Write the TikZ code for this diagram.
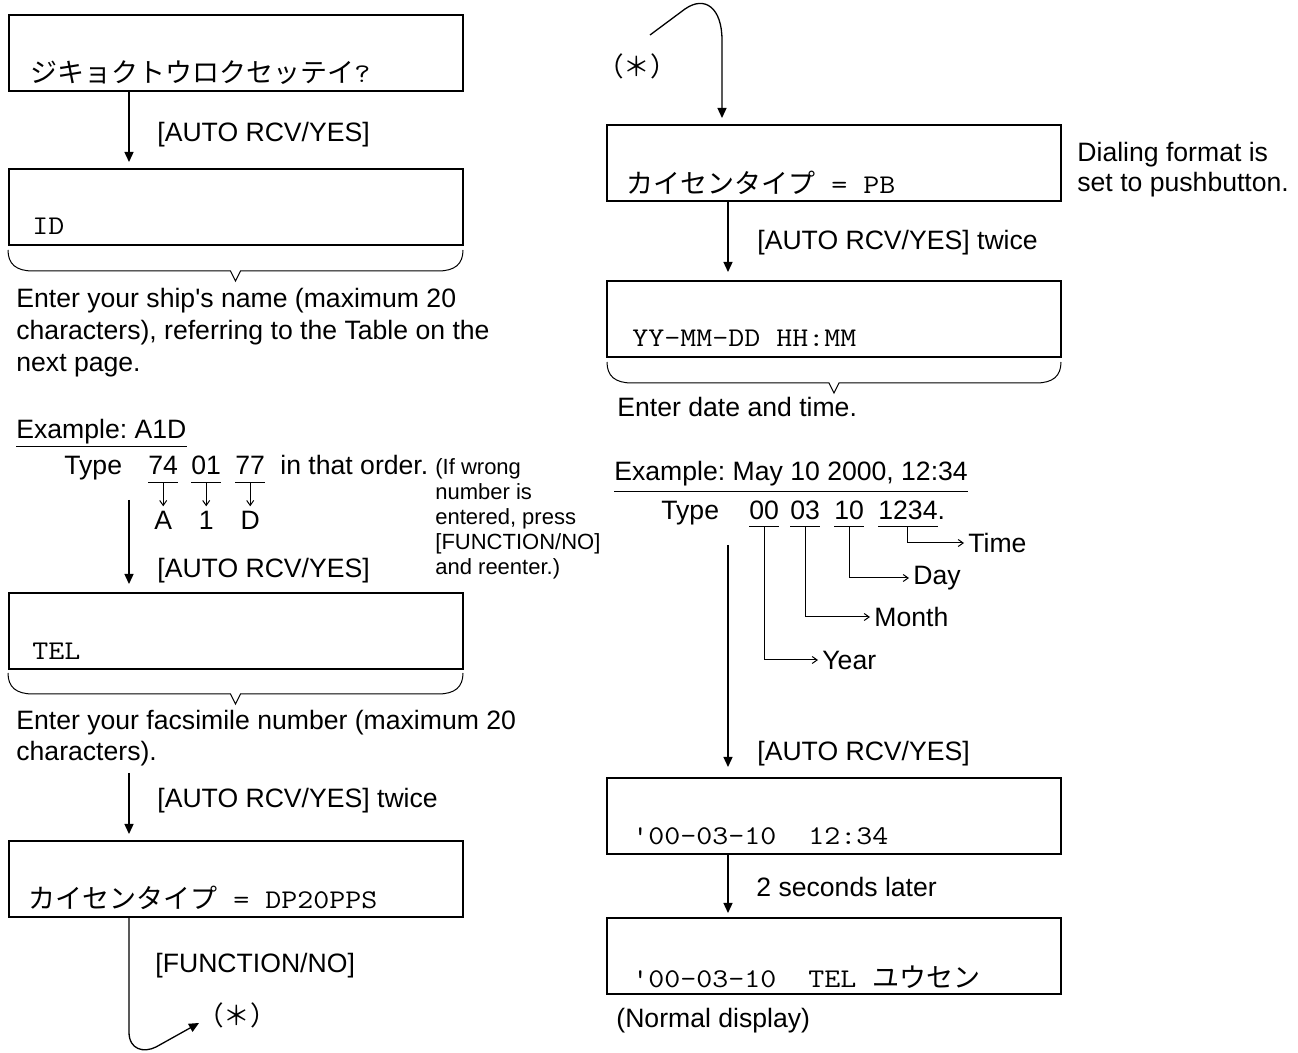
\documentclass[tikz,border=0pt]{standalone}
\usepackage{fontspec}
\setmainfont[Ligatures=TeXOff]{Liberation Sans}
\newfontfamily\lcdfont[FakeStretch=1.15,Ligatures=TeXOff]{Latin Modern Mono}
\newfontfamily\kanafont{Noto Sans CJK JP}
\usetikzlibrary{arrows.meta}
\frenchspacing

\tikzset{
  screen/.style={draw,line width=0.9pt,minimum width=227pt,minimum height=38pt,
    inner sep=0pt,anchor=north west},
  txt/.style={anchor=base west,inner sep=0pt},
  lcd/.style={txt,font=\lcdfont\fontsize{13.5}{16}\selectfont},
  kana/.style={inner sep=0pt,font=\kanafont\fontsize{13.3}{16}\selectfont},
  note/.style={txt,font=\fontsize{11}{13}\selectfont},
  numkey/.style={txt,text depth=3.5pt},
  uline/.style={line width=0.5pt},
  flow/.style={line width=0.65pt,-{Triangle[length=5pt,width=4.5pt]}},
  tick/.style={line width=0.5pt,-{Straight Barb[length=2.5pt,width=3.5pt]}},
  bracel/.style={line width=0.5pt},
}

% brace under a screen: left x, right x, top y
\newcommand{\openbrace}[3]{%
  \draw[bracel] (#1,#3) .. controls (#1,#3+14) and (#1+8,#3+21) .. (#1+25,#3+21)
    -- ({(#1+#2)/2-5},#3+21) -- ({(#1+#2)/2},#3+31) -- ({(#1+#2)/2+5},#3+21)
    -- (#2-25,#3+21) .. controls (#2-8,#3+21) and (#2,#3+14) .. (#2,#3);}

\begin{document}
\begin{tikzpicture}[x=0.5pt,y=-0.5pt,
  every node/.style={font=\fontsize{13.3}{16}\selectfont}]

\useasboundingbox (0,0) rectangle (1298,1053);

% Arrow columns
\coordinate (lx) at (129,0);
\coordinate (rx) at (728,0);
\coordinate (qx) at (722,0);

%%%%%%%%%%%%%%%%%%%%%%%%%%%%%%%%%%%%%%%%%%%%%%%%%%
% Left column
%%%%%%%%%%%%%%%%%%%%%%%%%%%%%%%%%%%%%%%%%%%%%%%%%%

% Screens
\node[screen] (s1) at (8,14) {};
\node[screen] (s2) at (8,168) {};
\node[screen] (s3) at (8,592) {};
\node[screen] (s4) at (8,840) {};

\node[lcd] (t1) at ([shift={(22,-9)}]s1.south west) {{\kanafont ジキョクトウロクセッテイ}?};
\node[lcd] (t2) at ([shift={(24,-11)}]s2.south west) {ID};
\node[lcd] (t3) at ([shift={(24,-10)}]s3.south west) {TEL};
\node[lcd] (t4) at ([shift={(20,-9)}]s4.south west) {{\kanafont カイセンタイプ}\ =\ DP20PPS};

% Arrows
\draw[flow,shorten >=3pt] (s1.south -| lx) -- (s2.north -| lx);
\node[txt] (k1) at (157,142) {[AUTO RCV/YES]};

\coordinate (a2) at (129,500);
\draw[flow,shorten >=4pt] (a2) -- (s3.north -| lx);
\node[txt] (k2) at (157,578) {[AUTO RCV/YES]};

\coordinate (a3) at (129,773);
\draw[flow,shorten >=3pt] (a3) -- (s4.north -| lx);
\node[txt] (k3) at (157,808) {[AUTO RCV/YES] twice};

% Braces
\openbrace{8}{463}{250}
\openbrace{8}{463}{673}

% Texts
\node[txt] (e1) at (16,308) {Enter your ship's name (maximum 20};
\node[txt] (e2) at (16,340) {characters), referring to the Table on the};
\node[txt] (e3) at (16,372) {next page.};

\node[txt] (f1) at (16,730) {Enter your facsimile number (maximum 20};
\node[txt] (f2) at (16,761) {characters).};

% Example
\node[numkey,text depth=3.8pt] (ex1) at (16,439) {Example: A1D};
\draw[uline] (ex1.south west) -- (ex1.south east);

\node[txt] (ty1) at (64,475) {Type};
\node[numkey] (k74) at (148,475) {74};
\node[numkey] (k01) at (191,475) {01};
\node[numkey] (k77) at (235,475) {77};
\node[txt] (ord) at (280,475) {in that order.};
\foreach \k in {k74,k01,k77}
  \draw[uline] (\k.south west) -- (\k.south east);

\coordinate (ltr) at (0,530);
\node[txt,anchor=base] (cA) at (k74.south |- ltr) {A};
\node[txt,anchor=base] (c1) at (k01.south |- ltr) {1};
\node[txt,anchor=base] (cD) at (k77.south |- ltr) {D};
\foreach \k/\c in {k74/cA,k01/c1,k77/cD}
  \draw[tick,shorten >=2.5pt] (\k.south) -- (\c.north);

\node[note] (w1) at (435,475) {(If wrong};
\node[note] (w2) at (435,500) {number is};
\node[note] (w3) at (435,525) {entered, press};
\node[note] (w4) at (435,550) {[FUNCTION/NO]};
\node[note] (w5) at (435,575) {and reenter.)};

% Loop to (*)
\node[txt] (k4) at (155,972) {[FUNCTION/NO]};
\node[kana] (starL) at (237,1015) {（＊）};
\coordinate (sL) at (199,1023);
\draw[flow] (s4.south -| lx) -- (129,1032)
  .. controls (129,1050) and (144,1053) .. (156,1047) -- (sL);

%%%%%%%%%%%%%%%%%%%%%%%%%%%%%%%%%%%%%%%%%%%%%%%%%%
% Right column
%%%%%%%%%%%%%%%%%%%%%%%%%%%%%%%%%%%%%%%%%%%%%%%%%%

% Screens
\node[screen] (s5) at (606,124) {};
\node[screen] (s6) at (606,280) {};
\node[screen] (s7) at (606,777) {};
\node[screen] (s8) at (606,917) {};

\node[lcd] (t5) at ([shift={(20,-8)}]s5.south west) {{\kanafont カイセンタイプ}\ =\ PB};
\node[lcd] (t6) at ([shift={(26,-11)}]s6.south west) {YY-MM-DD HH:MM};
\node[lcd] (t7) at ([shift={(26,-10)}]s7.south west) {'00-03-10\ \ 12:34};
\node[lcd] (t8) at ([shift={(26,-7)}]s8.south west) {'00-03-10\ \ TEL\ {\kanafont ユウセン}};

% Loop from (*)
\node[kana] (starR) at (637,66) {（＊）};
\coordinate (sR) at (650,35);
\draw[flow,shorten >=3pt] (sR) -- (685,9)
  .. controls (705,-5) and (722,8) .. (722,40) -- (s5.north -| qx);

\node[txt] (p1) at (1077,162) {Dialing format is};
\node[txt] (p2) at (1077,192) {set to pushbutton.};

% Arrows
\draw[flow,shorten >=4pt] (s5.south -| rx) -- (s6.north -| rx);
\node[txt] (k5) at (757,250) {[AUTO RCV/YES] twice};

\coordinate (a7) at (728,545);
\draw[flow,shorten >=5pt] (a7) -- (s7.north -| rx);
\node[txt] (k6) at (757,761) {[AUTO RCV/YES]};

\draw[flow,shorten >=2pt] (s7.south -| rx) -- (s8.north -| rx);
\node[txt] (k7) at (756,897) {2 seconds later};

% Brace
\openbrace{607}{1061}{362}
\node[txt] (g1) at (617,417) {Enter date and time.};

% Example
\node[numkey,text depth=5pt] (ex2) at (614,481) {Example: May 10 2000, 12:34};
\draw[uline] (ex2.south west) -- (ex2.south east);

\node[txt] (ty2) at (661,520) {Type};
\node[numkey,text depth=3pt] (d00) at (749,520) {00};
\node[numkey,text depth=3pt] (d03) at (790,520) {03};
\node[numkey,text depth=3pt] (d10) at (834,520) {10};
\node[numkey,text depth=3pt] (d1234) at (878,520) {1234\rlap{.}};
\foreach \k in {d00,d03,d10,d1234}
  \draw[uline] (\k.south west) -- (\k.south east);

\node[txt,anchor=west] (yr) at (822,660) {Year};
\node[txt,anchor=west] (mo) at (874,617) {Month};
\node[txt,anchor=west] (dy) at (913,578) {Day};
\node[txt,anchor=west] (tm) at (968,543) {Time};
\foreach \k/\c in {d00/yr,d03/mo,d10/dy,d1234/tm}
  \draw[tick,shorten >=2pt] (\k.south) |- (\c.west);

\node[txt] (nd) at (616,1028) {(Normal display)};

\end{tikzpicture}
\end{document}
